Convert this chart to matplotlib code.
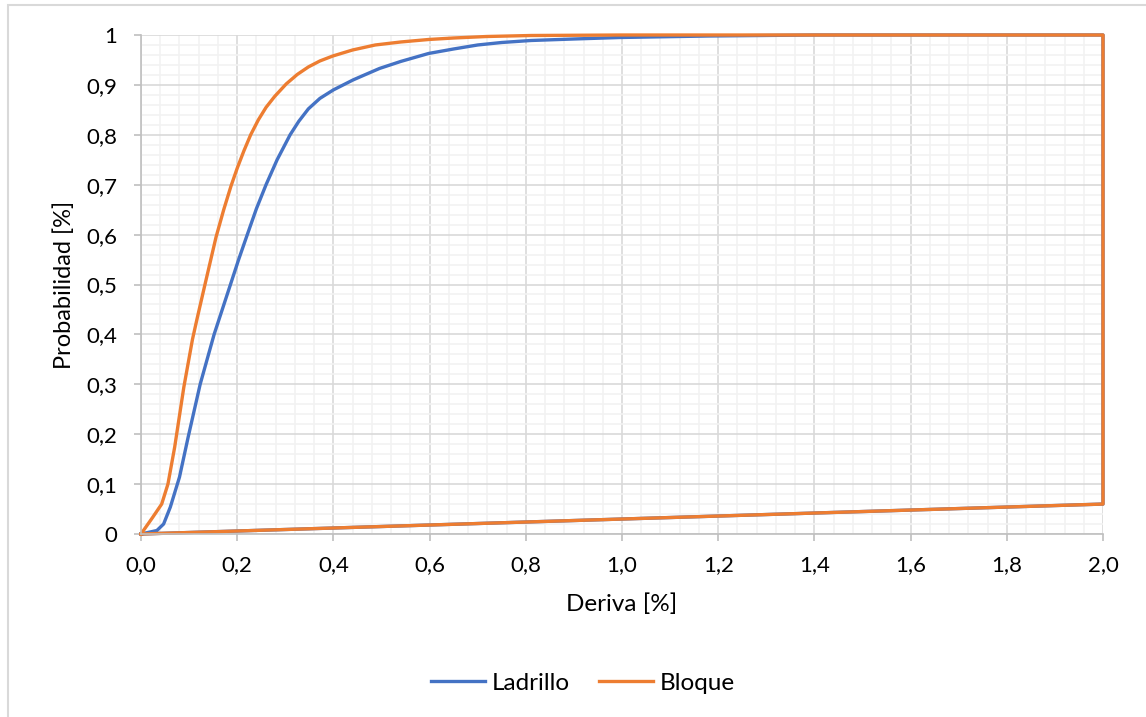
import numpy as np
import matplotlib
matplotlib.use("Agg")
import matplotlib.pyplot as plt
from matplotlib.patches import Rectangle

plt.rcParams['font.family'] = ['Lato', 'DejaVu Sans']

# curve data (deriva %, probabilidad)
ladrillo_x = [0.0, 0.033, 0.047, 0.061, 0.08, 0.098, 0.123, 0.152, 0.186, 0.203,
              0.221, 0.24, 0.26, 0.283, 0.31, 0.328, 0.348, 0.372, 0.4, 0.441,
              0.46, 0.496, 0.54, 0.598, 0.65, 0.7, 0.75, 0.811, 0.9, 0.996,
              1.18, 1.4, 2.0, 2.0, 0.0]
ladrillo_y = [0.0, 0.007, 0.02, 0.054, 0.114, 0.194, 0.30, 0.40, 0.50, 0.55,
              0.60, 0.652, 0.70, 0.75, 0.80, 0.827, 0.852, 0.873, 0.89, 0.91,
              0.918, 0.933, 0.947, 0.963, 0.972, 0.98, 0.985, 0.989, 0.992, 0.995,
              0.998, 1.0, 1.0, 0.06, 0.0]

bloque_x = [0.0, 0.024, 0.043, 0.056, 0.07, 0.089, 0.107, 0.116, 0.133, 0.156, 0.172,
            0.187, 0.2, 0.214, 0.228, 0.244, 0.26, 0.278, 0.302, 0.325, 0.348, 0.372,
            0.399, 0.44, 0.487, 0.54, 0.598, 0.65, 0.719, 0.811, 1.0,
            2.0, 2.0, 0.0]
bloque_y = [0.0, 0.033, 0.06, 0.10, 0.174, 0.294, 0.39, 0.429, 0.5, 0.595, 0.65,
            0.697, 0.733, 0.768, 0.80, 0.83, 0.855, 0.877, 0.902, 0.921, 0.936, 0.948,
            0.958, 0.97, 0.98, 0.986, 0.991, 0.994, 0.997, 0.999, 1.0,
            1.0, 0.06, 0.0]

xticks = [0.0, 0.2, 0.4, 0.6, 0.8, 1.0, 1.2, 1.4, 1.6, 1.8, 2.0]
xlabels = ["0,0", "0,2", "0,4", "0,6", "0,8", "1,0", "1,2", "1,4", "1,6", "1,8", "2,0"]
yticks = [0, 0.1, 0.2, 0.3, 0.4, 0.5, 0.6, 0.7, 0.8, 0.9, 1]
ylabels = ["0", "0,1", "0,2", "0,3", "0,4", "0,5", "0,6", "0,7", "0,8", "0,9", "1"]

fig = plt.figure(figsize=(11.46, 7.17), dpi=100)
ax = fig.add_axes([141/1146, 1 - 534/717, (1103-141)/1146, (534-35)/717])

# chart area border (cut off at right and bottom)
fig.patches.append(Rectangle((8/1146, -0.1), 1.2, 1 - 5/717 + 0.1, transform=fig.transFigure,
                             fill=False, edgecolor='#d9d9d9', lw=1.5))

ax.plot(ladrillo_x, ladrillo_y, color='#4472C4', lw=2.4, label='Ladrillo',
        solid_joinstyle='round', clip_on=False)
ax.plot(bloque_x, bloque_y, color='#ED7D31', lw=2.4, label='Bloque',
        solid_joinstyle='round', clip_on=False)

ax.set_xlim(0, 2.0)
ax.set_ylim(0, 1)
ax.set_xticks(xticks)
ax.set_xticklabels(xlabels)
ax.set_yticks(yticks)
ax.set_yticklabels(ylabels)
ax.set_xticks(np.arange(0, 2.0001, 0.04), minor=True)
ax.set_yticks(np.arange(0, 1.0001, 0.02), minor=True)

ax.grid(which='minor', color='#f2f2f2', lw=1.2)
ax.grid(which='major', color='#d9d9d9', lw=1.2)
ax.set_axisbelow(True)

for s in ['top', 'right']:
    ax.spines[s].set_visible(False)
for s in ['left', 'bottom']:
    ax.spines[s].set_color('#bfbfbf')
    ax.spines[s].set_linewidth(1.2)

ax.tick_params(which='major', length=5, width=1.2, color='#bfbfbf', labelsize=16,
               labelcolor='black')
ax.tick_params(axis='x', pad=10)
ax.tick_params(axis='y', pad=12)
ax.tick_params(which='minor', length=0)

ax.set_xlabel('Deriva [%]', fontsize=17.5, labelpad=13)
ax.set_ylabel('Probabilidad [%]', fontsize=17, labelpad=8)

fig.legend(loc='center', bbox_to_anchor=(583/1146, 1 - 683/717), ncol=2, frameon=False,
           fontsize=17.5, handlelength=2.2, handletextpad=0.3, columnspacing=1.2)

fig.savefig('out.png', dpi=100)
